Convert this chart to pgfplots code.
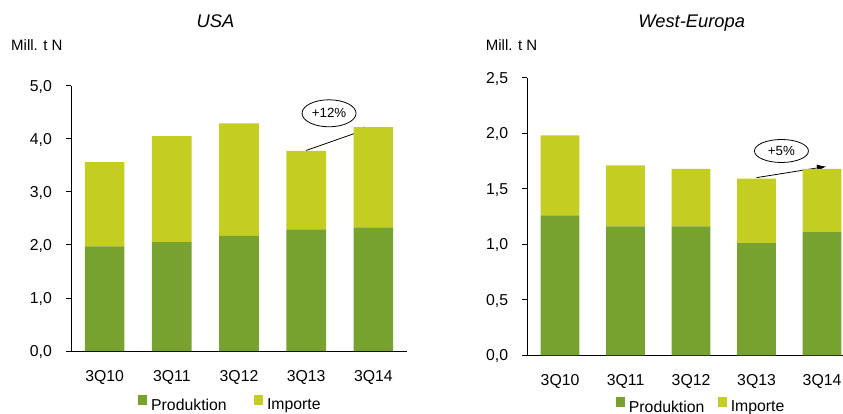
\documentclass[border=0pt]{standalone}
\usepackage{pgfplots}
\pgfplotsset{compat=1.18}
\usepackage{fontspec}
\setmainfont{Liberation Sans}
\usetikzlibrary{arrows.meta,shapes.geometric}
\definecolor{prod}{RGB}{120,162,48}
\definecolor{imp}{RGB}{196,205,34}
\newcommand{\tf}{\fontsize{15.8bp}{19bp}\selectfont}
\pgfplotsset{
  mystyle/.style={
    scale only axis,
    ybar stacked, bar width=0.59,
    xmin=-0.5, xmax=4.5, ymin=0,
    xtick={0,1,2,3,4}, xticklabels={3Q10,3Q11,3Q12,3Q13,3Q14},
    axis x line*=bottom, axis y line*=left,
    axis line style={line width=0.8bp, black},
    tick align=outside,
    major tick length=5bp,
    xtick style={draw=none},
    ytick style={line width=0.8bp, black},
    ticklabel style={font=\tf},
    yticklabel style={anchor=base east, inner sep=0pt, yshift=-5.6bp, xshift=-14bp},
    xticklabel style={anchor=base, inner sep=0pt, yshift=-25.2bp},
    /pgf/number format/.cd, use comma, fixed, fixed zerofill, precision=1, assume math mode=true,
    /pgfplots/.cd,
    legend columns=2,
    legend image code/.code={\fill[##1] (0bp,0.4bp) rectangle (9bp,10bp);},
    legend style={draw=none, fill=none, inner sep=0pt, font=\tf, nodes={inner sep=0pt},
      /tikz/every odd column/.append style={column sep=4bp}},
  }
}
\begin{document}
\begin{tikzpicture}
\path[use as bounding box] (0bp,0bp) rectangle (843bp,-414bp);
% USA
\begin{axis}[mystyle,
  at={(71bp,-351bp)}, anchor=south west,
  width=336bp, height=265.3bp, ymax=5, ytick={0,1,2,3,4,5},
  legend style={at={(0.1994,-0.198)}, anchor=west, /tikz/every even column/.append style={column sep=27.3bp}},
]
\addplot[fill=prod, draw=none] coordinates {(0,1.97) (1,2.05) (2,2.17) (3,2.29) (4,2.33)};
\addplot[fill=imp, draw=none] coordinates {(0,1.59) (1,2.00) (2,2.12) (3,1.48) (4,1.89)};
\legend{Produktion,Importe}
\draw[line width=0.8bp, -{Latex[length=9bp,width=7bp]}] (axis cs:3,3.78) -- (axis cs:3.99,4.22);
\node[draw, ellipse, line width=0.8bp, minimum width=54bp, minimum height=27bp, inner sep=0pt, font=\fontsize{13.3bp}{16bp}\selectfont] at (axis cs:3.34,4.48) {+12\%};
\end{axis}
% West-Europa
\begin{axis}[mystyle,
  at={(527.3bp,-355.3bp)}, anchor=south west,
  width=327.5bp, height=277.6bp, ymax=2.5, ytick={0,0.5,1,1.5,2,2.5},
  legend style={at={(0.27,-0.18)}, anchor=west, /tikz/every even column/.append style={column sep=13.3bp}},
]
\addplot[fill=prod, draw=none] coordinates {(0,1.26) (1,1.16) (2,1.16) (3,1.01) (4,1.11)};
\addplot[fill=imp, draw=none] coordinates {(0,0.72) (1,0.55) (2,0.52) (3,0.58) (4,0.57)};
\legend{Produktion,Importe}
\draw[line width=0.8bp, -{Latex[length=9bp,width=7bp]}] (axis cs:3,1.60) -- (axis cs:4.06,1.70);
\node[draw, ellipse, line width=0.8bp, minimum width=54bp, minimum height=23bp, inner sep=0pt, font=\fontsize{13.3bp}{16bp}\selectfont] at (axis cs:3.38,1.84) {+5\%};
\end{axis}
% titles and unit labels
\node[anchor=base, inner sep=0pt, font=\fontsize{18.3bp}{22bp}\selectfont\itshape] at (215.5bp,-27.3bp) {USA};
\node[anchor=base west, inner sep=0pt, font=\fontsize{15bp}{18bp}\selectfont] at (11bp,-50bp) {Mill. t N};
\node[anchor=base, inner sep=0pt, font=\fontsize{18.3bp}{22bp}\selectfont\itshape] at (691.7bp,-27.3bp) {West-Europa};
\node[anchor=base west, inner sep=0pt, font=\fontsize{15bp}{18bp}\selectfont] at (485.7bp,-50bp) {Mill. t N};
\end{tikzpicture}
\end{document}
